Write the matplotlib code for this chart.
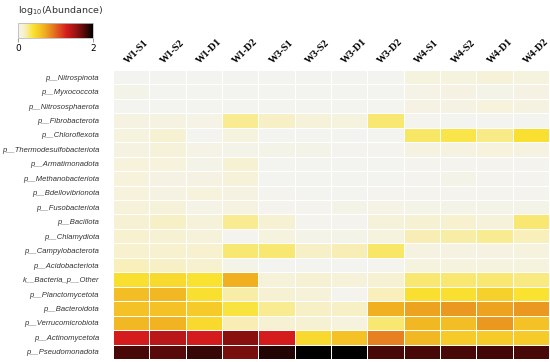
import numpy as np
import matplotlib
matplotlib.use('Agg')
import matplotlib.pyplot as plt
import matplotlib.transforms as mtransforms
from matplotlib.colors import LinearSegmentedColormap

# Filas (de arriba a abajo)
phyla = ['p__Nitrospinota', 'p__Myxococcota', 'p__Nitrososphaerota', 'p__Fibrobacterota',
         'p__Chloroflexota', 'p__Thermodesulfobacteriota', 'p__Armatimonadota',
         'p__Methanobacteriota', 'p__Bdellovibrionota', 'p__Fusobacteriota', 'p__Bacillota',
         'p__Chlamydiota', 'p__Campylobacterota', 'p__Acidobacteriota', 'k__Bacteria_p__Other',
         'p__Planctomycetota', 'p__Bacteroidota', 'p__Verrucomicrobiota', 'p__Actinomycetota',
         'p__Pseudomonadota']

samples = ['W1-S1', 'W1-S2', 'W1-D1', 'W1-D2', 'W3-S1', 'W3-S2',
           'W3-D1', 'W3-D2', 'W4-S1', 'W4-S2', 'W4-D1', 'W4-D2']

# log10(abundancia) por muestra, mismo orden que phyla
w1_s1 = [0.02, 0.04, 0.02, 0.07, 0.08, 0.07, 0.09, 0.09, 0.09, 0.10, 0.12, 0.13, 0.13, 0.18, 0.42, 0.62, 0.60, 0.65, 1.30, 1.80]
w1_s2 = [0.02, 0.02, 0.02, 0.07, 0.12, 0.10, 0.09, 0.06, 0.07, 0.10, 0.15, 0.12, 0.13, 0.15, 0.45, 0.65, 0.60, 0.68, 1.40, 1.75]
w1_d1 = [0.02, 0.02, 0.02, 0.05, 0.02, 0.05, 0.04, 0.06, 0.09, 0.05, 0.10, 0.10, 0.13, 0.13, 0.40, 0.42, 0.55, 0.45, 1.30, 1.85]
w1_d2 = [0.02, 0.02, 0.02, 0.25, 0.08, 0.04, 0.12, 0.10, 0.07, 0.07, 0.25, 0.03, 0.30, 0.04, 0.70, 0.22, 0.38, 0.20, 1.60, 1.65]
w3_s1 = [0.02, 0.02, 0.02, 0.15, 0.02, 0.04, 0.02, 0.02, 0.03, 0.03, 0.12, 0.08, 0.30, 0.02, 0.10, 0.12, 0.25, 0.12, 1.30, 1.90]
w3_s2 = [0.02, 0.02, 0.02, 0.10, 0.02, 0.04, 0.02, 0.02, 0.02, 0.03, 0.03, 0.04, 0.15, 0.02, 0.12, 0.10, 0.15, 0.12, 0.45, 2.00]
w3_d1 = [0.02, 0.02, 0.02, 0.08, 0.02, 0.03, 0.02, 0.02, 0.02, 0.04, 0.03, 0.04, 0.20, 0.02, 0.10, 0.03, 0.15, 0.08, 0.60, 2.00]
w3_d2 = [0.02, 0.02, 0.02, 0.30, 0.02, 0.03, 0.02, 0.02, 0.03, 0.05, 0.10, 0.08, 0.32, 0.03, 0.12, 0.18, 0.70, 0.30, 0.90, 1.80]
w4_s1 = [0.08, 0.05, 0.06, 0.03, 0.32, 0.07, 0.03, 0.03, 0.03, 0.04, 0.12, 0.20, 0.07, 0.08, 0.30, 0.42, 0.75, 0.65, 0.65, 1.80]
w4_s2 = [0.08, 0.06, 0.06, 0.02, 0.36, 0.07, 0.03, 0.04, 0.03, 0.04, 0.13, 0.22, 0.07, 0.08, 0.30, 0.42, 0.80, 0.62, 0.55, 1.80]
w4_d1 = [0.10, 0.04, 0.09, 0.02, 0.27, 0.09, 0.03, 0.03, 0.03, 0.04, 0.10, 0.25, 0.07, 0.08, 0.30, 0.50, 0.75, 0.80, 0.55, 1.82]
w4_d2 = [0.08, 0.06, 0.07, 0.02, 0.42, 0.07, 0.03, 0.03, 0.03, 0.04, 0.30, 0.18, 0.08, 0.08, 0.28, 0.40, 0.80, 0.60, 0.55, 1.80]

data = np.array([w1_s1, w1_s2, w1_d1, w1_d2, w3_s1, w3_s2,
                 w3_d1, w3_d2, w4_s1, w4_s2, w4_d1, w4_d2]).T

# Mapa de color blanco -> amarillo -> naranja -> rojo -> negro
cmap = LinearSegmentedColormap.from_list('abund', [
    (0.00, '#f3f3f3'), (0.05, '#f6f2d8'), (0.10, '#f8eeb4'), (0.15, '#f8e870'),
    (0.20, '#f9e230'), (0.28, '#f5c828'), (0.35, '#f0b020'), (0.43, '#e88a20'),
    (0.65, '#d41c1c'), (0.80, '#8a1010'), (0.90, '#4a0808'), (1.00, '#000000')])

fig = plt.figure(figsize=(5.5, 3.62), dpi=100)
ax = fig.add_axes([0.2055, 0.008, 0.793, 0.799])
mesh = ax.pcolormesh(data, cmap=cmap, vmin=0, vmax=2, edgecolors='white', linewidth=0.6)
ax.set_xlim(0, len(samples))
ax.set_ylim(len(phyla), 0)
for s in ax.spines.values():
    s.set_visible(False)

ax.set_yticks(np.arange(len(phyla)) + 0.5)
ax.set_yticklabels(phyla, fontsize=5.5, style='italic', color='#333333', family='Liberation Sans')
ax.tick_params(axis='y', length=0, pad=10)

ax.xaxis.tick_top()
ax.set_xticks(np.arange(len(samples)) + 0.5)
ax.set_xticklabels(samples, rotation=45, fontsize=7.4, fontweight='bold',
                   family='Liberation Serif', ha='center', va='bottom')
ax.tick_params(axis='x', length=0, pad=3)
shift = mtransforms.ScaledTranslation(5 / 100, 0, fig.dpi_scale_trans)
for lbl in ax.get_xticklabels():
    lbl.set_transform(lbl.get_transform() + shift)

# Barra de color
cax = fig.add_axes([0.033, 0.895, 0.136, 0.041])
cb = fig.colorbar(mesh, cax=cax, orientation='horizontal', ticks=[0, 2])
cb.outline.set_edgecolor('#bbbbbb')
cb.outline.set_linewidth(0.6)
cax.tick_params(labelsize=6.5, length=3, width=0.6, color='#888888', pad=1)
fig.text(0.033, 0.97, r'log$_{10}$(Abundance)', fontsize=6.8, color='#333333', va='center')

plt.savefig('out.png', dpi=100)
